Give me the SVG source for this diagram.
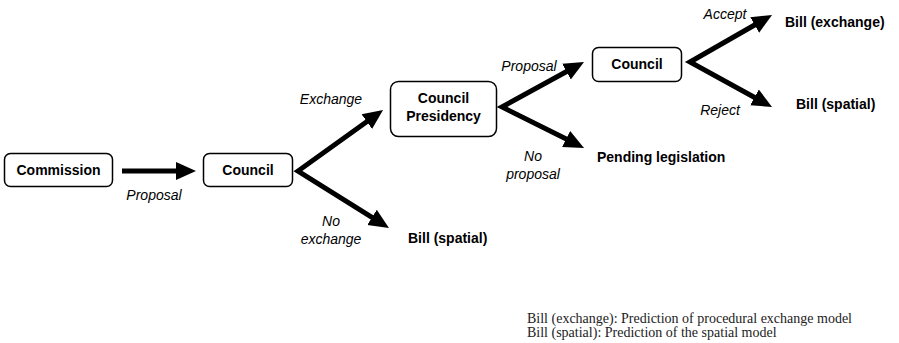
<svg xmlns="http://www.w3.org/2000/svg" width="899" height="343" viewBox="0 0 899 343">
<defs>
<marker id="ah" viewBox="0 0 20 20" markerWidth="20" markerHeight="20" refX="8" refY="10" orient="auto-start-reverse" markerUnits="userSpaceOnUse">
<path d="M0,1 L20,10 L0,19 z" fill="#000"/>
</marker>
<style>
.box{fill:#fff;stroke:#000;stroke-width:1.5}
.b{font-family:"Liberation Sans",Arial,sans-serif;font-weight:bold;font-size:14px;fill:#000}
.i{font-family:"Liberation Sans",Arial,sans-serif;font-style:italic;font-size:14px;fill:#000}
.l{font-family:"Liberation Serif","Times New Roman",serif;font-size:14px;fill:#222}
.c{text-anchor:middle}
.arr{fill:none;stroke:#000;stroke-width:5;stroke-linejoin:miter;stroke-miterlimit:10}
</style>
</defs>
<rect width="899" height="343" fill="#fff"/>
<g id="connectors">
<line class="arr" x1="122" y1="171" x2="184" y2="171" marker-end="url(#ah)"/>
<polyline class="arr" points="373.3,117 298,171 378.8,221.6" marker-start="url(#ah)" marker-end="url(#ah)"/>
<polyline class="arr" points="573.5,67.8 502,107 573.3,142.6" marker-start="url(#ah)" marker-end="url(#ah)"/>
<polyline class="arr" points="761.6,21 690,62 761.5,101.2" marker-start="url(#ah)" marker-end="url(#ah)"/>
</g>
<g id="labels">
<text class="i c" x="154" y="200">Proposal</text>
<text class="i c" x="331" y="104">Exchange</text>
<text class="i c" x="331" y="226">No</text>
<text class="i c" x="331" y="244">exchange</text>
<text class="i c" x="529" y="71">Proposal</text>
<text class="i c" x="533" y="161">No</text>
<text class="i c" x="533" y="179">proposal</text>
<text class="i c" x="725" y="19">Accept</text>
<text class="i c" x="720" y="115">Reject</text>
</g>
<g id="commission">
<rect class="box" x="4.5" y="153.5" width="108" height="33" rx="6"/>
<text class="b c" x="58.5" y="175">Commission</text>
</g>
<g id="council1">
<rect class="box" x="203.5" y="153.5" width="89" height="33" rx="6"/>
<text class="b c" x="248" y="175">Council</text>
</g>
<g id="presidency">
<rect class="box" x="390.5" y="81.5" width="106" height="55" rx="8"/>
<text class="b c" x="443.5" y="103">Council</text>
<text class="b c" x="443.5" y="121">Presidency</text>
</g>
<g id="council2">
<rect class="box" x="592.5" y="47.5" width="89" height="34" rx="6"/>
<text class="b c" x="637" y="69">Council</text>
</g>
<g id="bill-spatial-1">
<text class="b" x="408" y="243">Bill (spatial)</text>
</g>
<g id="pending">
<text class="b" x="597" y="162">Pending legislation</text>
</g>
<g id="bill-exchange">
<text class="b" x="785" y="27">Bill (exchange)</text>
</g>
<g id="bill-spatial-2">
<text class="b" x="796" y="109">Bill (spatial)</text>
</g>
<g id="legend">
<text class="l" x="527" y="323">Bill (exchange): Prediction of procedural exchange model</text>
<text class="l" x="527" y="337">Bill (spatial): Prediction of the spatial model</text>
</g>
</svg>
